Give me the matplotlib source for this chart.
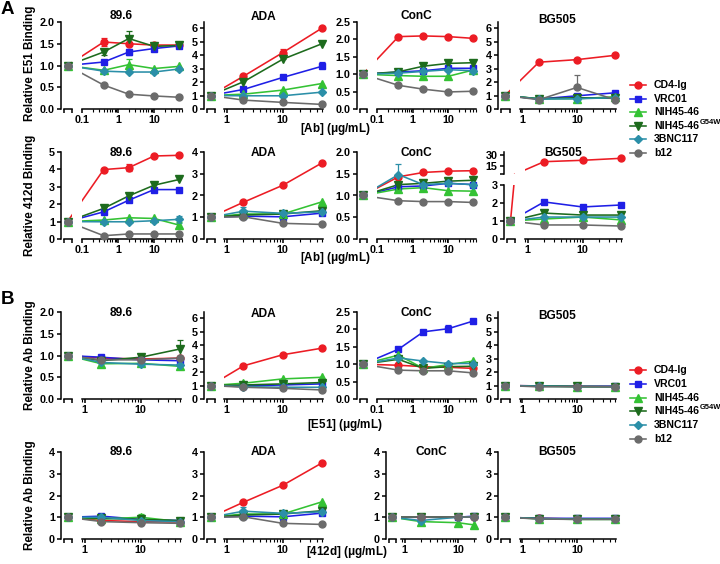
import numpy as np
import matplotlib
matplotlib.use('Agg')
import matplotlib.pyplot as plt
from matplotlib.ticker import FixedLocator, NullLocator, NullFormatter, FuncFormatter, LogLocator
from matplotlib.lines import Line2D

plt.rcParams['font.family'] = ['Liberation Sans', 'DejaVu Sans']
plt.rcParams['font.weight'] = 'bold'
plt.rcParams['mathtext.fontset'] = 'custom'
plt.rcParams['mathtext.rm'] = 'Liberation Sans'
plt.rcParams['mathtext.bf'] = 'Liberation Sans:bold'

# ---------------- data ----------------
names = ['CD4-Ig', 'VRC01', 'NIH45-46', 'NIH45-46', '3BNC117', 'b12']
name_sup = ['', '', '', 'G54W', '', '']
colors = ['#ec1c24', '#1f1fe6', '#34c234', '#1d6b1d', '#2b8fa8', '#6b6b6b']
markers = ['o', 's', '^', 'v', 'D', 'o']
msizes = [5.0, 4.8, 5.2, 5.2, 3.6, 5.0]

conc4 = [0.4, 2, 10, 50]
conc3 = [2, 10, 50]
ctrl_value = 1.0

# A: relative E51 binding (rows = CD4-Ig, VRC01, NIH45-46, G54W, 3BNC117, b12)
e51_896 = [[1.54, 1.50, 1.47, 1.47], [1.08, 1.31, 1.39, 1.45], [0.89, 1.02, 0.93, 0.98],
           [1.31, 1.62, 1.44, 1.46], [0.87, 0.85, 0.85, 0.92], [0.55, 0.34, 0.30, 0.27]]
e51_ada = [[2.43, 4.18, 6.00], [1.45, 2.34, 3.17], [1.10, 1.40, 1.89],
           [2.02, 3.69, 4.84], [0.98, 0.98, 1.25], [0.66, 0.49, 0.34]]
e51_conc = [[2.08, 2.10, 2.08, 2.03], [1.06, 1.10, 1.17, 1.17], [0.96, 0.94, 0.94, 1.12],
            [1.07, 1.23, 1.31, 1.33], [1.03, 1.08, 1.13, 1.10], [0.68, 0.57, 0.49, 0.51]]
e51_bg505 = [[3.47, 3.66, 3.98], [0.74, 0.98, 1.20], [0.76, 0.76, 0.91],
             [0.76, 0.84, 0.79], [0.74, 0.76, 0.84], [0.69, 1.60, 0.69]]

# A: relative 412d binding
d412_896 = [[3.99, 4.10, 4.77, 4.81], [1.56, 2.23, 2.84, 2.84], [1.09, 1.22, 1.18, 0.80],
            [1.76, 2.48, 3.09, 3.42], [0.99, 0.99, 1.05, 1.13], [0.19, 0.29, 0.29, 0.29]]
d412_ada = [[1.69, 2.47, 3.50], [1.05, 1.02, 1.19], [1.15, 1.15, 1.71],
            [1.10, 1.15, 1.30], [1.28, 1.18, 1.25], [1.02, 0.72, 0.67]]
d412_conc = [[1.43, 1.53, 1.56, 1.57], [1.20, 1.22, 1.28, 1.25], [1.15, 1.18, 1.11, 1.10],
             [1.25, 1.28, 1.33, 1.35], [1.48, 1.25, 1.28, 1.25], [0.88, 0.86, 0.86, 0.84]]
d412_bg505 = [[20.8, 22.7, 25.4], [2.06, 1.78, 1.89], [1.11, 1.22, 1.06],
              [1.44, 1.33, 1.33], [1.22, 1.22, 1.22], [0.78, 0.78, 0.72]]

# B: relative Ab binding vs [E51]
be51_896 = [[0.94, 0.92, 0.94], [0.96, 0.90, 0.88], [0.81, 0.82, 0.75],
            [0.88, 0.96, 1.15], [0.84, 0.80, 0.78], [0.90, 0.90, 0.94]]
be51_ada = [[2.46, 3.28, 3.77], [0.97, 1.04, 1.12], [1.17, 1.49, 1.61],
            [1.04, 1.12, 1.22], [0.92, 0.87, 0.87], [0.87, 0.79, 0.67]]
be51_conc = [[0.97, 0.93, 0.91, 0.88], [1.43, 1.93, 2.02, 2.24], [1.26, 0.88, 0.99, 1.09],
             [1.14, 0.88, 0.93, 0.94], [1.18, 1.09, 1.02, 1.02], [0.83, 0.81, 0.81, 0.75]]
be51_bg505 = [[0.97, 0.93, 0.92], [0.97, 0.94, 0.95], [0.95, 0.92, 0.90],
              [0.96, 0.93, 0.92], [0.95, 0.92, 0.91], [0.90, 0.92, 0.90]]

# B: relative Ab binding vs [412d]
b412_896 = [[0.85, 0.80, 0.78], [1.05, 0.90, 0.85], [0.92, 1.00, 0.80],
            [0.95, 0.90, 0.85], [1.00, 0.85, 0.80], [0.80, 0.75, 0.72]]
b412_ada = [[1.69, 2.47, 3.50], [1.05, 1.02, 1.19], [1.15, 1.15, 1.71],
            [1.10, 1.15, 1.30], [1.28, 1.18, 1.25], [1.02, 0.72, 0.67]]
b412_conc = [[1.00, 1.00, 1.02], [1.00, 1.00, 1.05], [0.80, 0.75, 0.65],
             [1.00, 1.00, 1.00], [0.85, 1.00, 1.02], [1.00, 1.00, 1.00]]
b412_bg505 = [[0.95, 0.92, 0.92], [0.95, 0.95, 0.95], [0.93, 0.90, 0.90],
              [0.94, 0.92, 0.92], [0.94, 0.91, 0.91], [0.92, 0.90, 0.90]]

# error bars: (series, point, sem)
err_e51_896 = [(0, 0, 0.10), (3, 0, 0.07), (3, 1, 0.18), (2, 1, 0.12), (1, 1, 0.06)]
err_e51_ada = [(0, 1, 0.25), (3, 1, 0.35), (1, 2, 0.35)]
err_e51_conc = [(3, 3, 0.08)]
err_e51_bg505 = [(5, 1, 0.9)]
err_d412_896 = [(0, 1, 0.2), (4, 3, 0.2), (2, 3, 0.15), (3, 0, 0.1)]
err_d412_ada = [(4, 0, 0.2)]
err_d412_conc = [(4, 0, 0.25)]
err_be51_896 = [(3, 2, 0.2)]
err_be51_conc = [(1, 2, 0.1)]
err_b412_896 = [(1, 0, 0.1), (2, 1, 0.15)]
err_b412_conc = [(2, 0, 0.1)]

# ---------------- layout helpers ----------------
W, H = 720, 564
fig = plt.figure(figsize=(W / 100, H / 100), dpi=100)


def add_px(x0, y0, x1, y1):
    return fig.add_axes([x0 / W, 1 - y1 / H, (x1 - x0) / W, (y1 - y0) / H])


def style(ax):
    ax.patch.set_visible(False)
    ax.spines['top'].set_visible(False)
    ax.spines['right'].set_visible(False)
    for s in ax.spines.values():
        s.set_linewidth(1.1)
    ax.tick_params(which='major', direction='out', length=3.0, width=1.1, labelsize=7.8, pad=1.5)
    ax.tick_params(which='minor', direction='out', length=1.8, width=0.8)


def make_pair(xl, top, bot, ylim, show_bottom=True):
    spine, small_r, main_l, main_r, xlo, xhi = xl
    ppd = (main_r - main_l) / np.log10(xhi / xlo)

    def c_at(px):
        return xlo * 10 ** ((px - main_l) / ppd)

    axs = add_px(spine, top, small_r, bot)
    axm = add_px(main_l, top, main_r, bot)
    for ax in (axs, axm):
        style(ax)
        ax.set_xscale('log')
        ax.set_ylim(*ylim)
    axs.set_xlim(c_at(spine), c_at(small_r))
    axm.set_xlim(xlo, xhi)
    axm.spines['left'].set_visible(False)
    axm.tick_params(axis='y', which='both', left=False, labelleft=False)
    axs.xaxis.set_minor_locator(NullLocator())
    if show_bottom:
        axs.xaxis.set_major_locator(FixedLocator([c_at(spine + 3), c_at(small_r - 0.4)]))
        axs.xaxis.set_major_formatter(NullFormatter())
        axs.spines['bottom'].set_bounds(c_at(spine + 3), c_at(small_r))
        decs = [10.0 ** k for k in range(-3, 4) if xlo * 0.999 <= 10.0 ** k <= xhi]
        axm.xaxis.set_major_locator(FixedLocator(decs))
        axm.xaxis.set_major_formatter(FuncFormatter(lambda v, p: '%g' % v))
        axm.xaxis.set_minor_locator(LogLocator(base=10, subs=np.arange(2, 10), numticks=30))
        axm.xaxis.set_minor_formatter(NullFormatter())
    else:
        for ax in (axs, axm):
            ax.spines['bottom'].set_visible(False)
            ax.xaxis.set_major_locator(NullLocator())
            ax.xaxis.set_minor_locator(NullLocator())
    ctrl = c_at((spine + small_r) / 2 + 1)
    return axs, axm, ctrl


def draw_series(axs, axm, ctrl, concs, data, errs, ylim):
    for i, vals in enumerate(data):
        c = colors[i]
        xs = [ctrl] + list(concs)
        ys = [ctrl_value] + list(vals)
        for ax in (axs, axm):
            ax.plot(xs, ys, color=c, lw=1.15, zorder=2 + i * 0.01)
        inx = [x for x, v in zip(concs, vals) if ylim[0] <= v <= ylim[1]]
        iny = [v for v in vals if ylim[0] <= v <= ylim[1]]
        axm.plot(inx, iny, ls='none', marker=markers[i], ms=msizes[i], color=c, mec=c,
                 clip_on=False, zorder=3 + i * 0.01)
        if ylim[0] <= ctrl_value <= ylim[1]:
            axs.plot([ctrl], [ctrl_value], ls='none', marker=markers[i], ms=msizes[i], color=c,
                     mec=c, clip_on=False, zorder=3 + i * 0.01)
    for (si, pi, e) in errs:
        v = data[si][pi]
        if ylim[0] <= v <= ylim[1]:
            axm.errorbar([concs[pi]], [v], yerr=[[0], [e]] if e > 0.3 else e, fmt='none',
                         ecolor=colors[si], elinewidth=0.9, capsize=2.2, capthick=0.9,
                         clip_on=False, zorder=2.5)


def panel(xl, top, bot, ylim, yticks, yfmt, concs, data, errs, title, ty):
    axs, axm, ctrl = make_pair(xl, top, bot, ylim)
    axs.yaxis.set_major_locator(FixedLocator(yticks))
    axs.yaxis.set_major_formatter(FuncFormatter(lambda v, p: yfmt % v))
    draw_series(axs, axm, ctrl, concs, data, errs, ylim)
    fig.text((xl[0] + xl[3]) / 2 / W, 1 - ty / H, title, ha='center', va='center',
             fontsize=8.6, fontweight='bold')
    return axs, axm


# column x-layouts: (y-spine, small seg right, main left, main right, xmin, xmax)
c896_a = (61, 72, 82, 182, 0.1, 60)
cada = (204, 215, 224, 323, 0.9, 52)
cconc = (357, 367, 377, 476, 0.1, 60)
cbg = (498, 510, 520, 616, 0.9, 52)
cbg_2 = (504, 515, 525, 622, 0.9, 52)
c896_b = (61, 72, 82, 181, 0.9, 52)
cconc_b2 = (386, 396, 401, 476, 0.85, 22)

rA1 = (22, 109)
rA2 = (152, 239)
rB1 = (312, 399)
rB2 = (452, 539)

f1 = '%.1f'
fi = '%d'
t2 = [0, 0.5, 1.0, 1.5, 2.0]
t25 = [0, 0.5, 1.0, 1.5, 2.0, 2.5]
t6 = [0, 1, 2, 3, 4, 5, 6]
t4 = [0, 1, 2, 3, 4]
t5 = [0, 1, 2, 3, 4, 5]

# ---- A top: E51 ----
panel(c896_a, *rA1, (0, 2.0), t2, f1, conc4, e51_896, err_e51_896, '89.6', 16)
panel(cada, *rA1, (0, 6.45), t6, fi, conc3, e51_ada, err_e51_ada, 'ADA', 17)
panel(cconc, *rA1, (0, 2.5), t25, f1, conc4, e51_conc, err_e51_conc, 'ConC', 16)
panel(cbg, *rA1, (0, 6.45), t6, fi, conc3, e51_bg505, err_e51_bg505, 'BG505', 20)

# ---- A bottom: 412d ----
panel(c896_a, *rA2, (0, 5), t5, fi, conc4, d412_896, err_d412_896, '89.6', 153)
panel(cada, *rA2, (0, 4), t4, fi, conc3, d412_ada, err_d412_ada, 'ADA', 153)
panel(cconc, *rA2, (0, 2.0), t2, f1, conc4, d412_conc, err_d412_conc, 'ConC', 153)
# BG505 with broken y axis
ylo, yhi = (0, 3), (4, 34)
axs_l, axm_l, ctrl_l = make_pair(cbg_2, 185, 239, ylo)
axs_l.yaxis.set_major_locator(FixedLocator([0, 1, 2, 3]))
axs_l.yaxis.set_major_formatter(FuncFormatter(lambda v, p: '%d' % v))
draw_series(axs_l, axm_l, ctrl_l, conc3, d412_bg505, [], ylo)
axs_u, axm_u, ctrl_u = make_pair(cbg_2, 152, 174, yhi, show_bottom=False)
axs_u.yaxis.set_major_locator(FixedLocator([15, 30]))
axs_u.yaxis.set_major_formatter(FuncFormatter(lambda v, p: '%d' % v))
axs_u.yaxis.set_minor_locator(FixedLocator([4.2]))
axs_u.tick_params(axis='y', which='minor', length=3.0, width=1.1)
draw_series(axs_u, axm_u, ctrl_u, conc3, d412_bg505, [], yhi)
fig.text((cbg_2[0] + cbg_2[3]) / 2 / W, 1 - 153 / H, 'BG505', ha='center', va='center',
         fontsize=8.6, fontweight='bold')

# ---- B top: vs E51 ----
panel(c896_b, *rB1, (0, 2.0), t2, f1, conc3, be51_896, err_be51_896, '89.6', 313)
panel(cada, *rB1, (0, 6.45), t6, fi, conc3, be51_ada, [], 'ADA', 314)
panel(cconc, *rB1, (0, 2.5), t25, f1, conc4, be51_conc, err_be51_conc, 'ConC', 313)
panel(cbg, *rB1, (0, 6.45), t6, fi, conc3, be51_bg505, [], 'BG505', 316)

# ---- B bottom: vs 412d ----
panel(c896_b, *rB2, (0, 4), t4, fi, conc3, b412_896, err_b412_896, '89.6', 452)
panel(cada, *rB2, (0, 4), t4, fi, conc3, b412_ada, err_d412_ada, 'ADA', 452)
panel(cconc_b2, *rB2, (0, 4), t4, fi, [2, 10, 20], b412_conc, err_b412_conc, 'ConC', 452)
panel(cbg, *rB2, (0, 4), t4, fi, conc3, b412_bg505, [], 'BG505', 452)

# ---------------- labels ----------------
def ftext(x, y, s, **kw):
    return fig.text(x / W, 1 - y / H, s, **kw)

ftext(1, 9, 'A', fontsize=13.5, fontweight='bold', va='center', ha='left')
ftext(1, 299, 'B', fontsize=13.5, fontweight='bold', va='center', ha='left')
lab = dict(fontsize=8.4, fontweight='bold', rotation=90, ha='center', va='center')
ftext(30, 63, 'Relative E51 Binding', **lab)
ftext(30, 195, 'Relative 412d Binding', **lab)
ftext(30, 355, 'Relative Ab Binding', **lab)
ftext(30, 495, 'Relative Ab Binding', **lab)
xlab = dict(fontsize=8.4, fontweight='bold', ha='center', va='center')
ftext(335, 129, '[Ab] ($\\mathbf{\\mu}$g/mL)', **xlab)
ftext(335, 258, '[Ab] ($\\mathbf{\\mu}$g/mL)', **xlab)
ftext(345, 425, '[E51] ($\\mathbf{\\mu}$g/mL)', **xlab)
ftext(347, 552, '[412d] ($\\mathbf{\\mu}$g/mL)', **xlab)

# ---------------- legends ----------------
renderer = fig.canvas.get_renderer()


def legend(y0, dy):
    for i, nm in enumerate(names):
        yp = y0 + i * dy
        y = 1 - yp / H
        fig.add_artist(Line2D([630 / W, 646 / W], [y, y], color=colors[i], lw=1.15,
                              transform=fig.transFigure))
        fig.add_artist(Line2D([638 / W], [y], color=colors[i], marker=markers[i],
                              ms=msizes[i], ls='none', transform=fig.transFigure))
        t = ftext(654, yp, nm, fontsize=7.6, fontweight='bold', va='center', ha='left')
        if name_sup[i]:
            bb = t.get_window_extent(renderer=renderer)
            fig.text((bb.x1 + 0.5) / W, 1 - (yp - 3.5) / H, name_sup[i], fontsize=5.4,
                     fontweight='bold', va='center', ha='left')

legend(85, 13.6)
legend(370, 13.8)

fig.savefig('out.png', dpi=100)
